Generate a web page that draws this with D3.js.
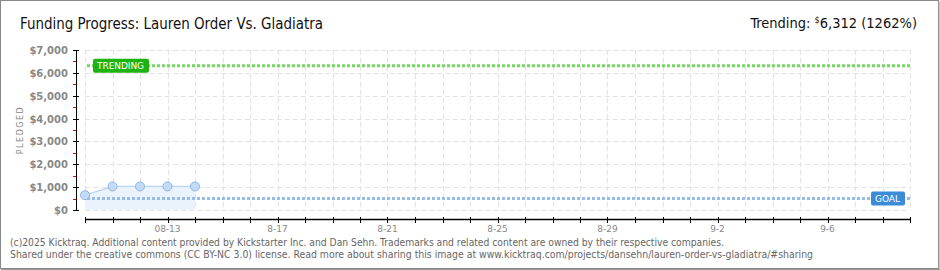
<!DOCTYPE html>
<html>
<head>
<meta charset="utf-8">
<script src="https://cdn.jsdelivr.net/npm/d3@7"></script>
<style>
  body { margin: 0; background: #fff; }
  svg { display: block; }
</style>
</head>
<body>
<div id="chart"></div>
<script>
// data
const dates = ["2025-08-10", "2025-08-11", "2025-08-12", "2025-08-13", "2025-08-14"];
const pledged = [650, 1030, 1030, 1030, 1030];
const goal = 500;
const trending = 6312;
const trendingPct = 1262;
const yTicks = [0, 1000, 2000, 3000, 4000, 5000, 6000, 7000];
const xLabelDates = ["2025-08-13", "2025-08-17", "2025-08-21", "2025-08-25", "2025-08-29", "2025-09-02", "2025-09-06"];
const xLabels = ["08-13", "8-17", "8-21", "8-25", "8-29", "9-2", "9-6"];
const dayStart = "2025-08-10";
const dayEnd = "2025-09-09";

const W = 940, H = 270;
const parse = d3.utcParse("%Y-%m-%d");
const points = dates.map((d, i) => ({ date: parse(d), value: pledged[i] }));

const svg = d3.select("#chart").append("svg")
  .attr("width", W)
  .attr("height", H);

// frame
svg.append("rect")
  .attr("x", 0.5).attr("y", 0.5)
  .attr("width", W - 2).attr("height", H - 2)
  .attr("fill", "#fff")
  .attr("stroke", "#888");
svg.append("line").attr("x1", W - 1).attr("x2", W - 1).attr("y1", 1).attr("y2", H).attr("stroke", "#999");
svg.append("line").attr("x1", 1).attr("x2", W).attr("y1", H - 0.5).attr("y2", H - 0.5).attr("stroke", "#999");

const x = d3.scaleUtc().domain([parse(dayStart), parse(dayEnd)]).range([85, 910]);
const y = d3.scaleLinear().domain([0, 7000]).range([210, 50]);

const days = d3.utcDay.range(parse(dayStart), d3.utcDay.offset(parse(dayEnd), 1));

// grid
const grid = svg.append("g")
  .attr("stroke", "#e3e3e3")
  .attr("stroke-dasharray", "5,3");
grid.selectAll(".vg").data(days).enter().append("line")
  .attr("x1", d => Math.round(x(d)) + 0.5)
  .attr("x2", d => Math.round(x(d)) + 0.5)
  .attr("y1", y(7000)).attr("y2", y(0));
grid.selectAll(".hg").data(yTicks).enter().append("line")
  .attr("x1", x.range()[0]).attr("x2", x.range()[1])
  .attr("y1", d => Math.round(y(d)) + 0.5)
  .attr("y2", d => Math.round(y(d)) + 0.5);

// area + line
svg.append("path")
  .datum(points)
  .attr("fill", "#eaf2fc")
  .attr("d", d3.area().x(d => x(d.date)).y0(y(0)).y1(d => y(d.value)));
svg.append("path")
  .datum(points)
  .attr("fill", "none")
  .attr("stroke", "#b9d5f3")
  .attr("stroke-width", 1.2)
  .attr("d", d3.line().x(d => x(d.date)).y(d => y(d.value)));

// goal line
svg.append("line")
  .attr("x1", x.range()[0] + 2).attr("x2", x.range()[1])
  .attr("y1", y(goal)).attr("y2", y(goal))
  .attr("stroke", "#95bde8")
  .attr("stroke-width", 3)
  .attr("stroke-dasharray", "3,2");

// trending line
svg.append("line")
  .attr("x1", x.range()[0] + 2).attr("x2", x.range()[1])
  .attr("y1", y(trending)).attr("y2", y(trending))
  .attr("stroke", "#72d862")
  .attr("stroke-width", 3)
  .attr("stroke-dasharray", "3,2");

// points
svg.selectAll(".pt").data(points).enter().append("circle")
  .attr("cx", d => x(d.date))
  .attr("cy", d => y(d.value))
  .attr("r", 4.5)
  .attr("fill", "#c3dbf6")
  .attr("stroke", "#8fb5e2")
  .attr("stroke-width", 1);

// labels on the lines
function tag(cx, cy, w, text, color) {
  const g = svg.append("g");
  g.append("rect")
    .attr("x", cx).attr("y", cy - 7)
    .attr("width", w).attr("height", 14)
    .attr("rx", 2)
    .attr("fill", color);
  g.append("text")
    .attr("x", cx + 4).attr("y", cy + 3.5)
    .attr("fill", "#fff")
    .attr("font-family", "DejaVu Sans")
    .attr("font-size", 9)
    .attr("textLength", w - 9)
    .attr("lengthAdjust", "spacingAndGlyphs")
    .text(text);
}
tag(93, y(trending), 56, "TRENDING", "#1fb312");
tag(871, y(goal), 34, "GOAL", "#3a8bd8");

// y axis
const yAxis = svg.append("g").attr("transform", "translate(76,0)");
yAxis.append("line").attr("x1", 0.5).attr("x2", 0.5).attr("y1", y(7000)).attr("y2", y(0)).attr("stroke", "#000");
yAxis.selectAll(".mt").data(yTicks).enter().append("line")
  .attr("x1", -3).attr("x2", 3)
  .attr("y1", d => Math.round(y(d)) + 0.5).attr("y2", d => Math.round(y(d)) + 0.5)
  .attr("stroke", "#000");
yAxis.selectAll(".mn").data(yTicks.slice(0, -1)).enter().append("line")
  .attr("x1", -3).attr("x2", 0)
  .attr("y1", d => Math.round(y(d + 500)) + 0.5).attr("y2", d => Math.round(y(d + 500)) + 0.5)
  .attr("stroke", "#e00");
yAxis.selectAll(".yl").data(yTicks).enter().append("text")
  .attr("x", -8).attr("y", d => y(d) + 4)
  .attr("text-anchor", "end")
  .attr("fill", "#888")
  .attr("font-family", "DejaVu Sans")
  .attr("font-weight", "bold")
  .attr("font-size", 10)
  .text(d => "$" + d3.format(",")(d));

svg.append("text")
  .attr("transform", "translate(23,130) rotate(-90)")
  .attr("text-anchor", "middle")
  .attr("fill", "#888")
  .attr("font-family", "DejaVu Sans")
  .attr("font-size", 8)
  .attr("letter-spacing", 1.5)
  .text("PLEDGED");

// x axis
const xAxis = svg.append("g").attr("transform", "translate(0,219)");
xAxis.append("line").attr("x1", x.range()[0]).attr("x2", x.range()[1]).attr("y1", 0.5).attr("y2", 0.5).attr("stroke", "#000").attr("stroke-width", 1.5);
xAxis.selectAll(".xt").data(days).enter().append("line")
  .attr("x1", d => Math.round(x(d)) + 0.5).attr("x2", d => Math.round(x(d)) + 0.5)
  .attr("y1", -2).attr("y2", 4)
  .attr("stroke", "#000");
xAxis.selectAll(".xl").data(xLabelDates).enter().append("text")
  .attr("x", d => x(parse(d)))
  .attr("y", 13)
  .attr("text-anchor", "middle")
  .attr("fill", "#888")
  .attr("font-family", "DejaVu Sans")
  .attr("font-size", 9)
  .text((d, i) => xLabels[i]);

// titles
svg.append("text")
  .attr("x", 20).attr("y", 29)
  .attr("fill", "#111")
  .attr("font-family", "DejaVu Sans Condensed, DejaVu Sans")
  .attr("font-size", 16)
  .attr("textLength", 303)
  .attr("lengthAdjust", "spacingAndGlyphs")
  .text("Funding Progress: Lauren Order Vs. Gladiatra");

const tr = svg.append("text")
  .attr("x", 917).attr("y", 28)
  .attr("text-anchor", "end")
  .attr("fill", "#111")
  .attr("font-family", "DejaVu Sans Condensed, DejaVu Sans")
  .attr("font-size", 14.5);
tr.append("tspan").text("Trending: ");
tr.append("tspan").attr("font-size", 9).attr("dy", -5).text("$");
tr.append("tspan").attr("dy", 5).text(d3.format(",")(trending) + " (" + trendingPct + "%)");

// footer
const foot = [
  { t: "(c)2025 Kicktraq. Additional content provided by Kickstarter Inc. and Dan Sehn. Trademarks and related content are owned by their respective companies.", w: 714 },
  { t: "Shared under the creative commons (CC BY-NC 3.0) license. Read more about sharing this image at www.kicktraq.com/projects/dansehn/lauren-order-vs-gladiatra/#sharing", w: 803 }
];
svg.selectAll(".ft").data(foot).enter().append("text")
  .attr("x", 10)
  .attr("y", (d, i) => 246 + i * 12)
  .attr("fill", "#666")
  .attr("font-family", "DejaVu Sans Condensed, DejaVu Sans")
  .attr("font-size", 10)
  .attr("textLength", d => d.w)
  .attr("lengthAdjust", "spacingAndGlyphs")
  .text(d => d.t);
</script>
</body>
</html>
